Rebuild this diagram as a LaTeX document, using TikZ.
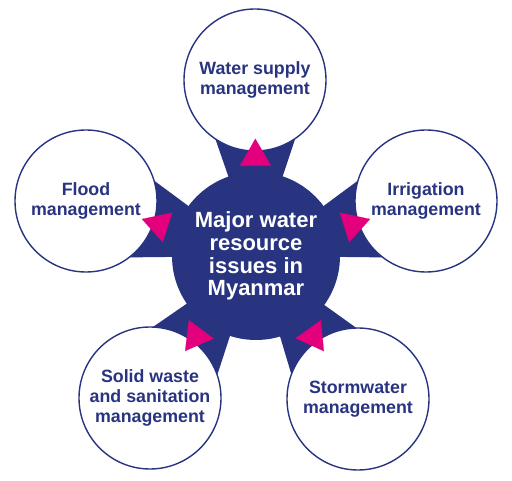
\documentclass[tikz,border=0pt]{standalone}
\usepackage{fontspec}
\setmainfont{Liberation Sans}
\usetikzlibrary{arrows.meta,calc,backgrounds}
\definecolor{navy}{RGB}{40,52,128}
\definecolor{tipink}{RGB}{228,0,124}

\begin{document}
\begin{tikzpicture}[x=1pt,y=1pt,
    issue/.style={circle, draw=navy, line width=1.4pt, fill=white, minimum size=142pt,
      inner sep=0pt, align=center, text=navy, font=\bfseries\fontsize{17.8}{19.8}\selectfont},
    hub/.style={circle, fill=navy, minimum size=168pt, inner sep=0pt, align=center,
      text=white, font=\bfseries\fontsize{22}{22.8}\selectfont},
    pointer/.style={navy, line width=0.1pt, shorten >=-13pt,
      -{Triangle[length=27pt,width=31pt,color=tipink]}}]
                \useasboundingbox (0,0) rectangle (512,480);

                % Hub and issue circles
                \node at (256,224) [hub] (hub) {Major water\\resource\\issues in\\Myanmar};
                \node at (255,400) [issue] (water) {Water supply\\management};
                \node at (426,279) [issue] (irrig) {Irrigation\\management};
                \node at (358,81) [issue] (storm) {Stormwater\\management};
                \node at (150,82) [issue] (solid) {Solid waste\\and sanitation\\management};
                \node at (86,279) [issue] (flood) {Flood\\management};

                % Wedges behind the circles
                \begin{scope}[on background layer]
                \foreach \n in {water,irrig,storm,solid,flood}
                  \fill[navy] (hub.center) -- ($(\n.center)!60pt!90:(hub.center)$)
                    -- ($(\n.center)!60pt!-90:(hub.center)$) -- cycle;
                \end{scope}

                % Arrows
                \foreach \n in {water,irrig,storm,solid,flood}
                  \draw[pointer] (hub) -- (\n);

\end{tikzpicture}
\end{document}
